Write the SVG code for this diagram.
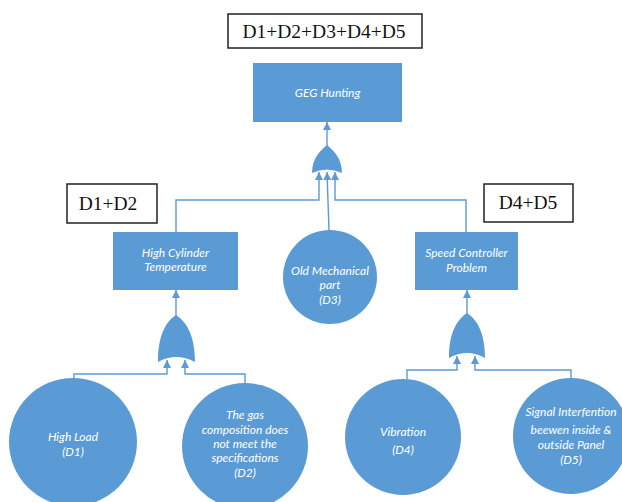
<svg xmlns="http://www.w3.org/2000/svg" width="622" height="502" viewBox="0 0 622 502">
  <style>
    .node { fill: #5B9BD5; }
    .lbl { font-family: Lato, "Open Sans", "Liberation Sans", sans-serif; font-style: italic; font-size: 12px; fill: #ffffff; text-anchor: middle; }
    .box { fill: #ffffff; stroke: #222222; stroke-width: 1.5; }
    .boxtxt { font-family: "Liberation Serif", "Times New Roman", serif; font-size: 19.5px; fill: #111111; text-anchor: middle; }
    .wire { fill: none; stroke: #5B9BD5; stroke-width: 1.4; }
    .gate { fill: #5B9BD5; }
  </style>
  <defs>
    <marker id="arr" viewBox="0 0 8 8" refX="8" refY="4" markerWidth="8" markerHeight="8" markerUnits="userSpaceOnUse" orient="auto">
      <path d="M0,0 L8,4 L0,8 Z" fill="#5B9BD5"/>
    </marker>
  </defs>

  <rect width="622" height="502" fill="#ffffff"/>

  <!-- cut-set labels -->
  <g id="cutset-top">
    <rect class="box" x="228" y="14" width="194" height="34"/>
    <text class="boxtxt" x="324" y="38">D1+D2+D3+D4+D5</text>
  </g>
  <g id="cutset-left">
    <rect class="box" x="67" y="184" width="90" height="39"/>
    <text class="boxtxt" x="108" y="210">D1+D2</text>
  </g>
  <g id="cutset-right">
    <rect class="box" x="484" y="184" width="89" height="38"/>
    <text class="boxtxt" x="528" y="209">D4+D5</text>
  </g>

  <!-- connectors -->
  <g id="connectors">
    <!-- top OR gate -->
    <line class="wire" x1="327" y1="146" x2="327" y2="122" marker-end="url(#arr)"/>
    <polyline class="wire" points="176,232 176,200 319,200 319,172" marker-end="url(#arr)"/>
    <polyline class="wire" points="329,231 327,172" marker-end="url(#arr)"/>
    <polyline class="wire" points="466,232 466,200 335,200 335,172" marker-end="url(#arr)"/>
    <!-- left OR gate -->
    <line class="wire" x1="176" y1="316" x2="176" y2="290" marker-end="url(#arr)"/>
    <polyline class="wire" points="74,378 74,374 167,374 167,360" marker-end="url(#arr)"/>
    <polyline class="wire" points="245,383 245,374 185,374 185,360" marker-end="url(#arr)"/>
    <!-- right OR gate -->
    <line class="wire" x1="467" y1="314" x2="467" y2="290" marker-end="url(#arr)"/>
    <polyline class="wire" points="407,379 407,370 457,370 457,356" marker-end="url(#arr)"/>
    <polyline class="wire" points="571,378 571,370 475,370 475,356" marker-end="url(#arr)"/>
  </g>

  <!-- gates -->
  <g id="gate-top">
    <path class="gate" d="M327,145 C333,150 342,158 342,173 Q327,166 312,173 C312,158 321,150 327,145 Z"/>
  </g>
  <g id="gate-left">
    <path class="gate" d="M176,315 C185,321 195,333 195,362 Q176,352 158,362 C158,333 167,321 176,315 Z"/>
  </g>
  <g id="gate-right">
    <path class="gate" d="M467,313 C476,319 485,331 485,358 Q467,348 449,358 C449,331 458,319 467,313 Z"/>
  </g>

  <!-- events -->
  <g id="geg-hunting">
    <rect class="node" x="253" y="63" width="149" height="59"/>
    <text class="lbl" x="327.5" y="97">GEG Hunting</text>
  </g>
  <g id="high-cylinder-temperature">
    <rect class="node" x="113" y="232" width="125" height="58"/>
    <text class="lbl" x="175.5" y="257">High Cylinder</text>
    <text class="lbl" x="175.5" y="271">Temperature</text>
  </g>
  <g id="speed-controller-problem">
    <rect class="node" x="415" y="232" width="103" height="58"/>
    <text class="lbl" x="466.5" y="257">Speed Controller</text>
    <text class="lbl" x="466.5" y="272">Problem</text>
  </g>
  <g id="old-mechanical-part">
    <circle class="node" cx="330" cy="277" r="47"/>
    <text class="lbl" x="330" y="275">Old Mechanical</text>
    <text class="lbl" x="330" y="289">part</text>
    <text class="lbl" x="330" y="304">(D3)</text>
  </g>
  <g id="high-load">
    <circle class="node" cx="73" cy="442" r="64"/>
    <text class="lbl" x="73" y="441">High Load</text>
    <text class="lbl" x="73" y="456">(D1)</text>
  </g>
  <g id="gas-composition">
    <circle class="node" cx="245" cy="446" r="63"/>
    <text class="lbl" x="245" y="419">The gas</text>
    <text class="lbl" x="245" y="434">composition does</text>
    <text class="lbl" x="245" y="448">not meet the</text>
    <text class="lbl" x="245" y="462">specifications</text>
    <text class="lbl" x="245" y="477">(D2)</text>
  </g>
  <g id="vibration">
    <circle class="node" cx="403" cy="437" r="58"/>
    <text class="lbl" x="403" y="436">Vibration</text>
    <text class="lbl" x="403" y="454">(D4)</text>
  </g>
  <g id="signal-interference">
    <circle class="node" cx="571" cy="436" r="58"/>
    <text class="lbl" x="571" y="416">Signal Interfention</text>
    <text class="lbl" x="571" y="434">beewen inside &amp;</text>
    <text class="lbl" x="571" y="449">outside Panel</text>
    <text class="lbl" x="571" y="464">(D5)</text>
  </g>
</svg>
